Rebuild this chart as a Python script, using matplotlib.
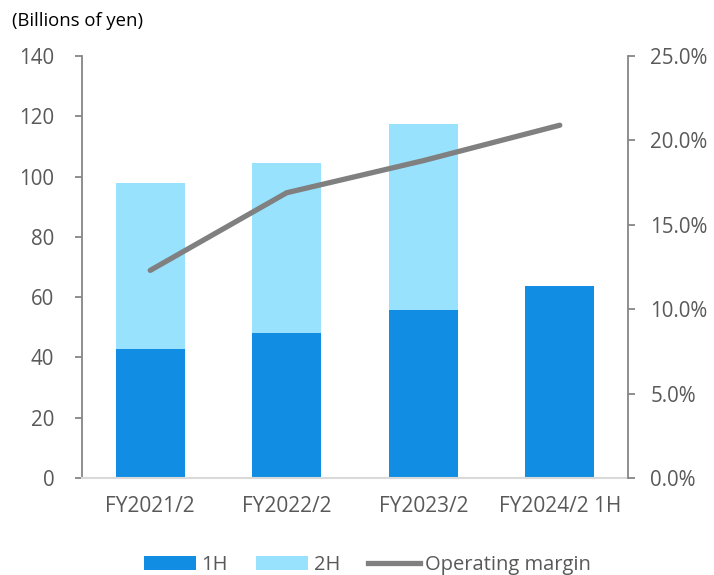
import matplotlib
matplotlib.use("Agg")
import matplotlib.pyplot as plt
from matplotlib.patches import Patch
from matplotlib.lines import Line2D
from matplotlib.ticker import FuncFormatter, MultipleLocator
import numpy as np

plt.rcParams['font.family'] = ['Open Sans', 'DejaVu Sans']

categories = ["FY2021/2", "FY2022/2", "FY2023/2", "FY2024/2 1H"]
first_half = [42.7, 48.2, 55.7, 63.8]
second_half = [55.3, 56.3, 61.6, 0.0]
operating_margin = [12.3, 16.9, 18.8, 20.9]

C_1H = "#118ee4"
C_2H = "#98e2fd"
C_LINE = "#808080"
C_TEXT = "#595959"

fig = plt.figure(figsize=(7.14, 5.75), dpi=100)
ax = fig.add_axes([0.1148, 0.1687, 0.7648, 0.7339])
x = np.arange(len(categories))
w = 0.505
ax.bar(x, first_half, width=w, color=C_1H, zorder=2)
ax.bar(x, second_half, width=w, bottom=first_half, color=C_2H, zorder=2)
ax.set_xlim(-0.5, len(categories) - 0.5)
ax.set_ylim(0, 140)
ax.yaxis.set_major_locator(MultipleLocator(20))
ax.set_xticks(x)
ax.set_xticklabels(categories)

ax2 = ax.twinx()
ax2.plot(x, operating_margin, color=C_LINE, lw=3.8, solid_capstyle='round', zorder=3)
ax2.set_ylim(0, 25)
ax2.yaxis.set_major_locator(MultipleLocator(5))
ax2.yaxis.set_major_formatter(FuncFormatter(lambda v, p: f"{v:.1f}%"))

for a in (ax, ax2):
    for s in a.spines.values():
        s.set_visible(False)
ax.spines['left'].set_visible(True)
ax.spines['left'].set_color("#868686")
ax.spines['left'].set_linewidth(1.3)
ax.spines['bottom'].set_visible(True)
ax.spines['bottom'].set_color("#d9d9d9")
ax.spines['bottom'].set_linewidth(1.5)
ax2.spines['right'].set_visible(True)
ax2.spines['right'].set_color("#868686")
ax2.spines['right'].set_linewidth(1.3)

ax.tick_params(axis='y', length=5, width=1.3, color="#868686", labelsize=14.8,
               labelcolor=C_TEXT, pad=15)
ax.tick_params(axis='x', length=0, labelsize=15, labelcolor=C_TEXT, pad=13)
ax2.tick_params(axis='y', length=5, width=1.3, color="#868686", labelsize=14.8,
                labelcolor=C_TEXT, pad=11)

fig.text(0.017, 0.963, "(Billions of yen)", fontsize=13.3, color="#000000",
         ha='left', va='center')

handles = [Patch(facecolor=C_1H, label="1H"),
           Patch(facecolor=C_2H, label="2H"),
           Line2D([0], [0], color=C_LINE, lw=3.8, label="Operating margin")]
fig.legend(handles=handles, loc='center', bbox_to_anchor=(0.515, 0.017), ncol=3,
           frameon=False, fontsize=14.5, labelcolor=C_TEXT, handlelength=2.6,
           handleheight=0.7, handletextpad=0.25, columnspacing=1.4)

fig.savefig("out.png", dpi=100)
